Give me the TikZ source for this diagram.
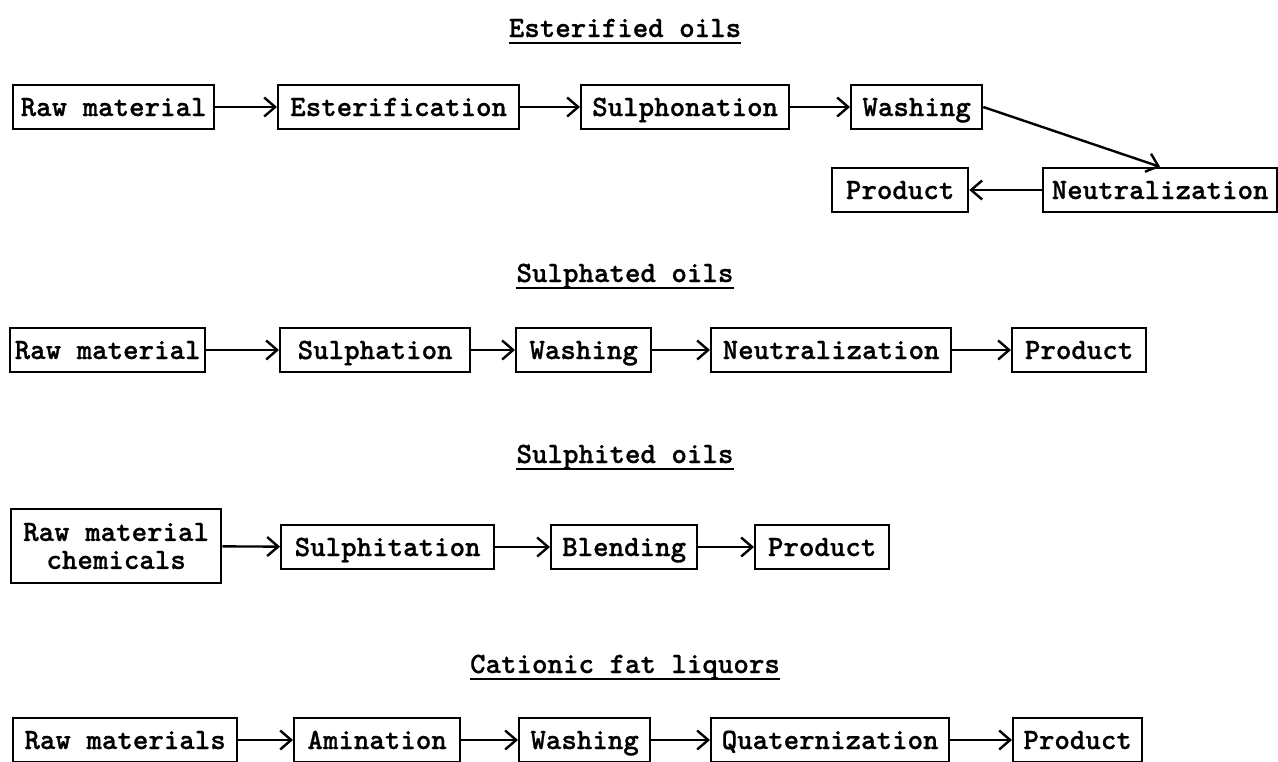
\documentclass[tikz,border=0pt]{standalone}
\usepackage{fontspec}
\newfontfamily\typefont{lmmonolt10-bold.otf}[FakeBold=0.8]
\usetikzlibrary{arrows.meta, calc}

\begin{document}
\begin{tikzpicture}[
    x=1pt, y=-1pt,
    process/.style={
        draw, line width=2.3pt, anchor=west, inner sep=3pt,
        minimum height=44pt, align=center,
        text height=18pt, text depth=0pt,
        font=\typefont\fontsize{29.5}{25}\selectfont
    },
    heading/.style={
        inner sep=0pt, anchor=base,
        font=\typefont\fontsize{29.5}{25}\selectfont
    },
    flow/.style={-{Straight Barb[length=11pt,width=19pt]}, line width=2.4pt},
    uline/.style={line width=2.3pt},
]
\useasboundingbox (0,0) rectangle (1278,761);

% Esterified oils
\node[heading] (t1) at (625,37) {Esterified oils};
\draw[uline] ($(t1.base west)+(0,6)$) -- ($(t1.base east)+(0,6)$);
\node[process, minimum width=201pt] (raw1)  at (12,107)  {Raw material};
\node[process, minimum width=241pt] (ester) at (277,107) {Esterification};
\node[process, minimum width=208pt] (sulf1) at (580,107) {Sulphonation};
\node[process, minimum width=131pt] (wash1) at (850,107) {Washing};
\node[process, minimum width=234pt] (neut1) at (1042,190) {Neutralization};
\node[process, minimum width=136pt] (prod1) at (831,190) {Product};
\draw[flow] (raw1) -- (ester);
\draw[flow] (ester) -- (sulf1);
\draw[flow] (sulf1) -- (wash1);
\draw[flow] (wash1.east) -- (neut1.north);
\draw[flow] (neut1) -- (prod1);

% Sulphated oils
\node[heading] (t2) at (625,282) {Sulphated oils};
\draw[uline] ($(t2.base west)+(0,6)$) -- ($(t2.base east)+(0,6)$);
\node[process, minimum width=195pt] (raw2)  at (9,350)    {Raw material};
\node[process, minimum width=190pt] (sulf2) at (279,350)  {Sulphation};
\node[process, minimum width=135pt] (wash2) at (515,350)  {Washing};
\node[process, minimum width=240pt] (neut2) at (710,350)  {Neutralization};
\node[process, minimum width=134pt] (prod2) at (1011,350) {Product};
\draw[flow] (raw2) -- (sulf2);
\draw[flow] (sulf2) -- (wash2);
\draw[flow] (wash2) -- (neut2);
\draw[flow] (neut2) -- (prod2);

% Sulphited oils
\node[heading] (t3) at (625,463) {Sulphited oils};
\draw[uline] ($(t3.base west)+(0,6)$) -- ($(t3.base east)+(0,6)$);
\node[process, minimum width=210pt, minimum height=74pt,
      text height=, text depth=] (raw3) at (10,546) {Raw material\\[3pt]chemicals};
\node[process, minimum width=213pt] (sulf3) at (280,547) {Sulphitation};
\node[process, minimum width=146pt] (blend) at (550,547) {Blending};
\node[process, minimum width=134pt] (prod3) at (754,547) {Product};
\draw[flow] (raw3) -- (sulf3);
\draw[flow] (sulf3) -- (blend);
\draw[flow] (blend) -- (prod3);

% Cationic fat liquors
\node[heading] (t4) at (625,673) {Cationic fat liquors};
\draw[uline] ($(t4.base west)+(0,6)$) -- ($(t4.base east)+(0,6)$);
\node[process, minimum width=224pt] (raw4)  at (12,740)   {Raw materials};
\node[process, minimum width=166pt] (amin)  at (293,740)  {Amination};
\node[process, minimum width=131pt] (wash4) at (518,740)  {Washing};
\node[process, minimum width=238pt] (quat)  at (710,740)  {Quaternization};
\node[process, minimum width=129pt] (prod4) at (1012,740) {Product};
\draw[flow] (raw4) -- (amin);
\draw[flow] (amin) -- (wash4);
\draw[flow] (wash4) -- (quat);
\draw[flow] (quat) -- (prod4);

\end{tikzpicture}
\end{document}
